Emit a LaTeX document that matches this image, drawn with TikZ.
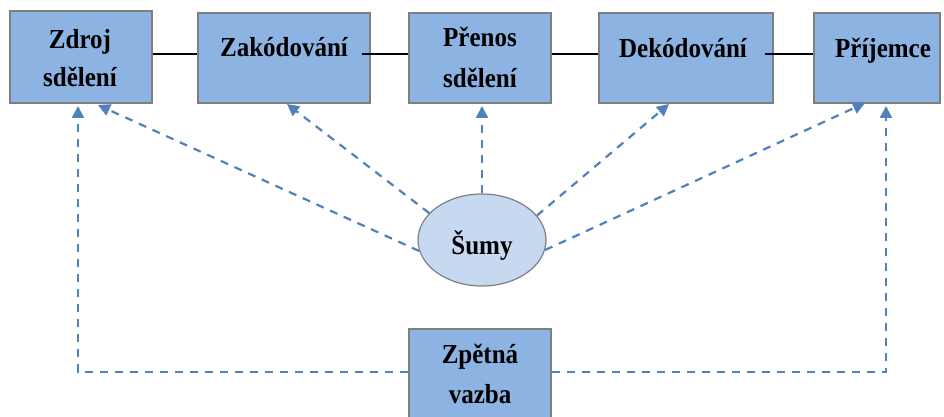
\documentclass[tikz,border=0pt]{standalone}
\usepackage{fontspec}
\setmainfont{Liberation Serif}
\usetikzlibrary{arrows.meta,shapes.geometric}
\definecolor{boxblue}{HTML}{8DB3E2}
\definecolor{ellblue}{HTML}{C6D9F1}
\definecolor{dashblue}{HTML}{4F81BD}
\definecolor{edgegray}{HTML}{7F7F7F}
\newcommand\tallt[1]{\scalebox{1}[1.1]{#1}}
\begin{document}
\begin{tikzpicture}[x=1pt,y=-1pt,
  box/.style={draw=edgegray,line width=1.2pt,fill=boxblue,rectangle,inner sep=0pt},
  lbl/.style={font=\fontsize{25}{30}\selectfont\bfseries,anchor=base,inner sep=0pt},
  link/.style={draw=black,line width=1.3pt},
  noise/.style={draw=dashblue,line width=2.2pt,dash pattern=on 8pt off 7pt,
    -{Triangle[length=12pt,width=12pt]}},
  ell/.style={ellipse,draw=edgegray,line width=1.2pt,fill=ellblue,inner sep=0pt,
    minimum width=128pt,minimum height=92pt}
]
\useasboundingbox (0,0) rectangle (944,417);
\clip (0,0) rectangle (944,417);

% boxes
\node[box,minimum width=142pt,minimum height=92pt] (b1) at (81,57) {};
\node[box,minimum width=172pt,minimum height=90pt] (b2) at (284,58) {};
\node[box,minimum width=142pt,minimum height=90pt] (b3) at (480,58) {};
\node[box,minimum width=174pt,minimum height=90pt] (b4) at (686,58) {};
\node[box,minimum width=126pt,minimum height=90pt] (b5) at (877,58) {};
\node[box,minimum width=142pt,minimum height=96pt] (zv) at (480,377) {};
\node[ell] (s) at (482,240) {};

% labels
\node[lbl] (t1a) at (80,49) {\tallt{Zdroj}};
\node[lbl] (t1b) at (80,87) {\tallt{sdělení}};
\node[lbl] (t2) at (284,57) {\tallt{Zakódování}};
\node[lbl] (t3a) at (480,47) {\tallt{Přenos}};
\node[lbl] (t3b) at (480,88) {\tallt{sdělení}};
\node[lbl] (t4) at (683,58) {\tallt{Dekódování}};
\node[lbl] (t5) at (883,58) {\tallt{Příjemce}};
\node[lbl] (tza) at (480,363) {\tallt{Zpětná}};
\node[lbl] (tzb) at (480,403) {\tallt{vazba}};
\node[lbl] (ts) at (482,254) {\tallt{Šumy}};

% solid links
\coordinate (ly) at (0,54);
\draw[link] (b1.east |- ly) -- (b2.west |- ly);
\draw[link] ([xshift=-9pt]b2.east |- ly) -- (b3.west |- ly);
\draw[link] (b3.east |- ly) -- (b4.west |- ly);
\draw[link] ([xshift=-9pt]b4.east |- ly) -- (b5.west |- ly);

% arrow ends
\coordinate (n1) at (98,105);
\coordinate (n2) at (287,104);
\coordinate (n3) at (482,106);
\coordinate (n4) at (669,104);
\coordinate (n5) at (865,103);
\coordinate (f1) at (78,106);
\coordinate (f5) at (886,106);

% noise arrows
\draw[noise] (s.190) -- (n1);
\draw[noise] (s.153) -- (n2);
\draw[noise] (s.90) -- (n3);
\draw[noise] (s.24) -- (n4);
\draw[noise] (s.351) -- (n5);

% feedback
\draw[noise] ([yshift=5pt]zv.west) -| (f1);
\draw[noise] ([yshift=5pt]zv.east) -| (f5);
\end{tikzpicture}
\end{document}
